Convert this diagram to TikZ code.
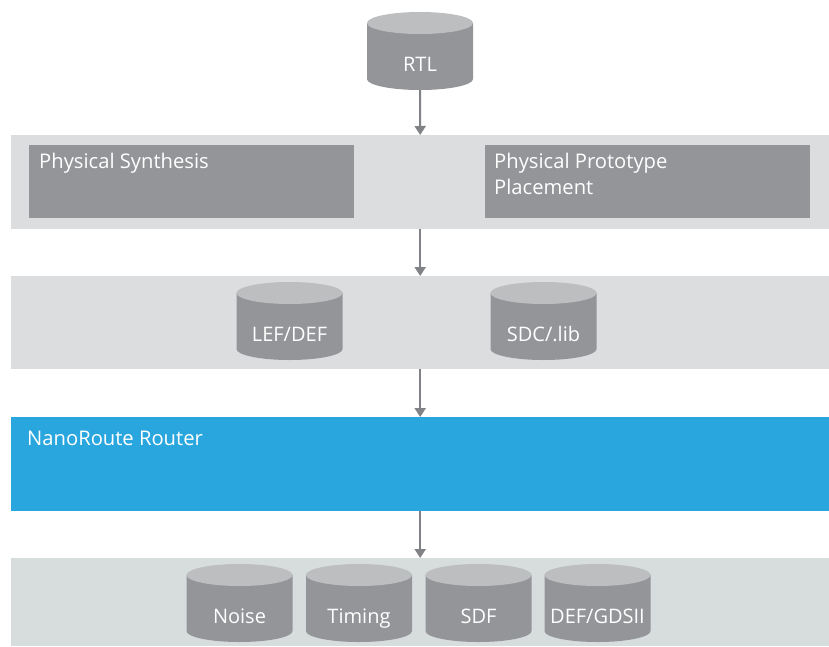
\documentclass[tikz,border=0pt]{standalone}
\usepackage{fontspec}
\setmainfont{Open Sans}
\usetikzlibrary{arrows.meta}
\definecolor{bandgray}{HTML}{DCDDDE}
\definecolor{bandgreen}{HTML}{D7DDDD}
\definecolor{boxgray}{HTML}{939598}
\definecolor{topgray}{HTML}{BCBEC0}
\definecolor{nanoblue}{HTML}{29A6DE}
\definecolor{arrowgray}{HTML}{808285}
\tikzset{
  band/.style={fill=#1, draw=none, anchor=north west, minimum width=818pt, minimum height=94pt, inner sep=0pt},
  graybox/.style={fill=boxgray, draw=none, anchor=north west, minimum width=325pt, minimum height=73pt, inner sep=0pt},
  boxtext/.style={text=white, font=\fontsize{20.2pt}{26pt}\selectfont, anchor=base west, inner sep=0pt},
  dbcyl/.style={draw=none, minimum width=106pt, minimum height=78pt, inner sep=0pt,
    text=white, font=\fontsize{20pt}{24pt}\selectfont, text height=40pt, text depth=0pt,
    path picture={
      \fill[boxgray] ([yshift=-11pt]path picture bounding box.north west)
        -- ([yshift=11pt]path picture bounding box.south west)
        arc[start angle=180, end angle=360, x radius=53pt, y radius=11pt]
        -- ([yshift=-11pt]path picture bounding box.north east) -- cycle;
      \fill[topgray] ([yshift=-11pt]path picture bounding box.north) ellipse[x radius=53pt, y radius=11pt];
    }},
  flow/.style={draw=arrowgray, line width=2pt, -{Triangle[width=11pt,length=9pt]}}
}
\begin{document}
\begin{tikzpicture}[x=1pt, y=-1pt]
  \useasboundingbox (0,0) rectangle (829,646);
  % bands
  \node[band=bandgray] (b1) at (11,135) {};
  \node[band=bandgray, minimum height=93pt] (b2) at (11,276) {};
  \node[band=nanoblue] (b3) at (11,417) {};
  \node[band=bandgreen, minimum height=88pt] (b4) at (11,558) {};
  % top cylinder
  \node[dbcyl] (rtl) at (420,51) {RTL};
  % boxes
  \node[graybox] (ps) at (29,145) {};
  \node[graybox] (ppp) at (485,145) {};
  \node[boxtext] (pst) at (39,168) {Physical Synthesis};
  \node[boxtext] (pppt1) at (494,168) {Physical Prototype};
  \node[boxtext] (pppt2) at (494,194) {Placement};
  % inputs
  \node[dbcyl] (lef) at (289.5,321) {LEF/DEF};
  \node[dbcyl] (sdc) at (543.5,321) {SDC/.lib};
  % router
  \node[boxtext] (nrt) at (27,445) {NanoRoute Router};
  % outputs
  \node[dbcyl] (noise) at (239.5,603) {Noise};
  \node[dbcyl] (timing) at (359,603) {Timing};
  \node[dbcyl] (sdf) at (478.5,603) {SDF};
  \node[dbcyl] (gds) at (597.5,603) {DEF/GDSII};
  % connectors
  \draw[flow] (rtl.south) -- (b1.north);
  \draw[flow] (b1.south) -- (b2.north);
  \draw[flow] (b2.south) -- (b3.north);
  \draw[flow] (b3.south) -- (b4.north);
\end{tikzpicture}
\end{document}
